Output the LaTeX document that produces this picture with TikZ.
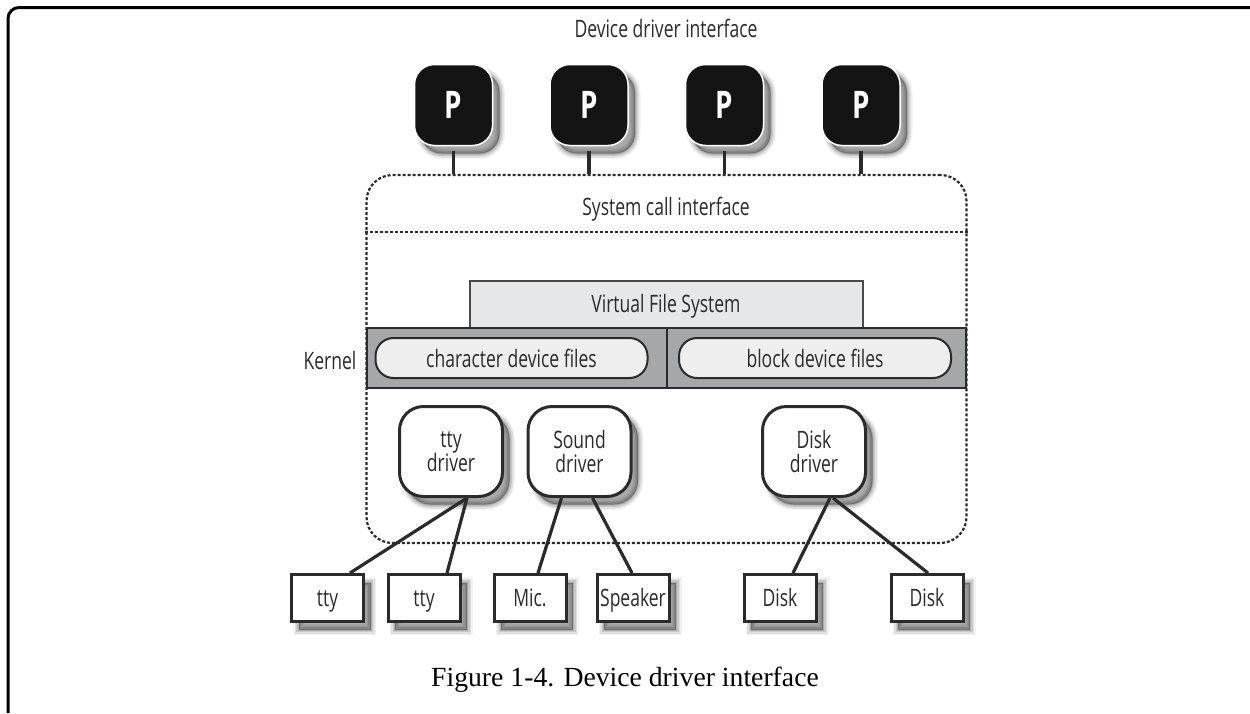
\documentclass[tikz,border=0pt]{standalone}
\usepackage{fontspec}
\setmainfont{Liberation Serif}
\newfontfamily\diagfont[FakeStretch=0.73]{Open Sans}
\usetikzlibrary{shadows,backgrounds}
\definecolor{ink}{HTML}{2B2B2B}
\definecolor{bandgray}{HTML}{A6A7A9}
\definecolor{vfsgray}{HTML}{E6E7E8}
\definecolor{pillgray}{HTML}{EEEEEE}
\tikzset{
  x=1pt,y=-1pt,
  softshadow/.style={
    general shadow={shadow xshift=7,shadow yshift=8,fill=black,draw=black,line width=11,opacity=.05},
    general shadow={shadow xshift=7,shadow yshift=8,fill=black,draw=black,line width=8,opacity=.08},
    general shadow={shadow xshift=7,shadow yshift=8,fill=black,draw=black,line width=5,opacity=.10},
    general shadow={shadow xshift=7,shadow yshift=8,fill=black,draw=black,line width=2,opacity=.14}},
  label/.style={font=\diagfont\fontsize{24}{24}\selectfont,text=ink,inner sep=0,align=center},
  pbox/.style={softshadow,rectangle,rounded corners=20,draw=white,line width=1.5,fill=black!92,
    minimum width=78,minimum height=81,inner sep=0,
    font=\diagfont\fontsize{38}{38}\selectfont\bfseries,text=white},
  drvbox/.style={softshadow,rectangle,rounded corners=24,draw=ink,line width=3,fill=white,
    minimum width=103,minimum height=90,label},
  leaf/.style={softshadow,rectangle,draw=ink,line width=3,fill=white,
    minimum width=72,minimum height=47,label,text height=17,text depth=1},
  pill/.style={rectangle,rounded corners=18,draw=ink,line width=2,fill=pillgray,
    minimum width=272,minimum height=40,label},
  wire/.style={draw=ink,line width=3.2},
  dotline/.style={draw=ink,line width=2.2,dash pattern=on 3pt off 2pt},
}
\begin{document}
\begin{tikzpicture}
\useasboundingbox (0,0) rectangle (1250,713);
\fill[white] (0,0) rectangle (1250,713);
% outer frame
\draw[black,line width=3,rounded corners=11] (8,713) -- (8,7.5) -- (1250,7.5);
% kernel area
\node[rectangle,rounded corners=26,dotline,minimum width=600,minimum height=368,inner sep=0] (kernel) at (666.5,359) {};
\coordinate (sepL) at (kernel.west |- 0,232);
\coordinate (sepR) at (kernel.east |- 0,232);
\draw[dotline] (sepL) -- (sepR);
\node[label] (title) at (666,28) {Device driver interface};
\node[label] (sci) at (666,209) {System call interface};
% VFS and band
\node[rectangle,draw=ink!85,line width=1.5,fill=vfsgray,minimum width=393,minimum height=47,inner sep=0] (vfs) at (666.5,304.5) {};
\node[label] at (666,306) (vfstext) {Virtual File System};
\node[rectangle,draw=ink,line width=2,fill=bandgray,minimum width=300,minimum height=60,inner sep=0] (bandL) at (517,358) {};
\node[rectangle,draw=ink,line width=2,fill=bandgray,minimum width=299,minimum height=60,inner sep=0] (bandR) at (816.5,358) {};
\node[pill] (chr) at (511.5,358) {character device files};
\node[pill] (blk) at (815,358) {block device files};
\node[label] (kern) at (330,360) {Kernel};
% processes
\node[pbox] (p1) at (453.5,105) {P};
\node[pbox] (p2) at (589,105) {P};
\node[pbox] (p3) at (724.5,105) {P};
\node[pbox] (p4) at (861,105) {P};
\foreach \n in {p1,p2,p3,p4}
  \draw[wire] ([yshift=-5]\n.south) -- (\n.south |- kernel.north);
% drivers
\node[drvbox] (dtty) at (451,451.5) {tty\\driver};
\node[drvbox] (dsnd) at (579.5,451.5) {Sound\\driver};
\node[drvbox] (ddsk) at (814,451.5) {Disk\\driver};
% leaves
\node[leaf] (t1) at (327.5,598) {tty};
\node[leaf] (t2) at (424,598) {tty};
\node[leaf] (mic) at (530,598) {Mic.};
\node[leaf] (spk) at (633,598) {Speaker};
\node[leaf] (d1) at (780,598) {Disk};
\node[leaf] (d2) at (927,598) {Disk};
% connectors
\draw[wire] ([xshift=16]dtty.south) -- ([xshift=22.5]t1.north);
\draw[wire] ([xshift=16]dtty.south) -- ([xshift=23]t2.north);
\draw[wire] ([xshift=-18]dsnd.south) -- ([xshift=8]mic.north);
\draw[wire] ([xshift=13]dsnd.south) -- ([xshift=-1]spk.north);
\draw[wire] ([xshift=16]ddsk.south) -- ([xshift=13]d1.north);
\draw[wire] ([xshift=19]ddsk.south) -- ([xshift=1]d2.north);
% caption
\node[font=\fontsize{27.7}{32}\selectfont,text=black,inner sep=0] (cap) at (625,680) {Figure 1-4. Device driver interface};
\end{tikzpicture}
\end{document}
